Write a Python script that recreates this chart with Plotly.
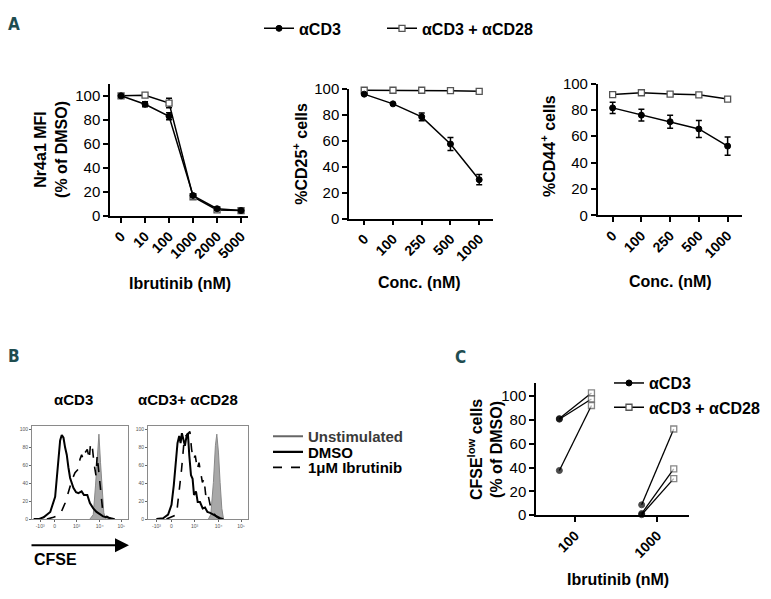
import plotly.graph_objects as go

W, H = 771, 599
FONT = "Liberation Sans, Arial, sans-serif"

# ---------------- Panel A data ----------------
a1_conc = ["0", "10", "100", "1000", "2000", "5000"]
a1_cd3 = [100, 93, 83, 17, 6, 4.5]
a1_cd3_err = [0.5, 2, 3, 1, 1, 0.5]
a1_cd28 = [100, 100.5, 94, 16, 5, 4.5]
a1_cd28_err = [0.5, 0.5, 4, 1, 0.5, 0.5]

a2_conc = ["0", "100", "250", "500", "1000"]
a2_cd3 = [96, 88.5, 78.5, 57.5, 30]
a2_cd3_err = [0.5, 0.5, 3, 5, 4]
a2_cd28 = [99, 99, 99, 98.7, 98.2]
a2_cd28_err = [0.5, 0.5, 0.5, 0.5, 0.5]

a3_conc = ["0", "100", "250", "500", "1000"]
a3_cd3 = [81.5, 76, 71, 65.5, 52.5]
a3_cd3_err = [4.3, 4.5, 5, 6.5, 7]
a3_cd28 = [91.6, 93, 92, 91.4, 88.2]
a3_cd28_err = [0.5, 0.5, 0.5, 0.5, 1.5]

# ---------------- Panel B data (histograms, channel vs % of max) ----------------
b_ticks = [8.5, 23.5, 46.5, 70.5, 93]
b_ticktext = ["-10³", "0", "10³", "10⁴", "10⁵"]

h1_dmso_x = [1.7, 6.9, 12.1, 19, 24.1, 26.5, 28.3, 29.3, 31, 32.8, 34.5, 36.2, 37.9, 39.7, 43.1, 45.9, 48.3,
             51.7, 54.1, 57.6, 60.3, 63.8, 67.2, 70.7, 74.1, 77.6, 82.8, 86.2]
h1_dmso_y = [0, 0, 2, 8, 25, 55, 78, 88, 94, 91, 80, 72, 58, 46, 35, 30, 29, 31, 27, 27, 18, 12, 8, 5, 3, 2, 1, 0]
h1_ibr_x = [15.5, 22.4, 29.3, 34.5, 37.9, 41.4, 44.8, 48.3, 50, 51.7, 53.4, 55.2, 57.6, 59.7, 61, 63.1, 64.5,
            66.6, 67.9, 69.7, 71.4, 73.4, 75.9, 79.3, 82.8]
h1_ibr_y = [0, 2, 5, 18, 30, 43, 52, 56, 67, 72, 67, 74, 78, 67, 85, 78, 63, 49, 71, 49, 27, 12, 5, 2, 0]
h1_uns_x = [60.3, 63.8, 66.2, 68.3, 69.7, 71.4, 73.1, 74.8, 76.9]
h1_uns_y = [0, 5, 38, 82, 95, 63, 27, 7, 0]

h2_dmso_x = [8.4, 15.1, 20.1, 23.5, 25.8, 27.9, 29.5, 31.2, 32.6, 33.9, 35.2, 36.9, 38.6, 39.9, 41.3, 43, 44.6,
             46, 48, 49.7, 52, 54.7, 57, 59.4, 62.1, 65.4, 68.8, 72.1, 75.5]
h2_dmso_y = [0, 1, 5, 16, 38, 63, 85, 93, 85, 96, 89, 82, 93, 96, 71, 49, 45, 27, 31, 19, 19, 12, 13, 8, 7, 5, 3, 1, 0]
h2_ibr_x = [18.5, 28.5, 33.6, 35.9, 37.9, 39.9, 41.9, 43.6, 45.3, 47.3, 49.3, 51, 52.7, 54.4, 56, 57.7, 59.4,
            62.1, 64.8, 68.1, 72.1]
h2_ibr_y = [0, 5, 56, 85, 93, 96, 98, 78, 67, 71, 56, 63, 49, 41, 45, 27, 31, 16, 8, 3, 0]
h2_uns_x = [60.4, 62.8, 65.4, 67.4, 68.8, 70.5, 72.1, 73.8, 75.5]
h2_uns_y = [0, 5, 41, 82, 95, 74, 41, 12, 0]

# ---------------- Panel C data ----------------
c_conc = ["100", "1000"]
c_cd3 = [[81, 80.5, 37.5], [8.7, 1.4, 0.4]]
c_cd28 = [[102.5, 97.5, 92], [72.3, 38.8, 30.7]]

# ---------------- helpers ----------------
def dx(a, b):
    return [a / W, b / W]

def dy(top, bottom):
    return [1 - bottom / H, 1 - top / H]

def px(x):
    return x / W

def py(y):
    return 1 - y / H

fig = go.Figure()

CD3_MARK = dict(symbol="circle", size=6, color="black", line=dict(color="black", width=1))
CD28_MARK = dict(symbol="square", size=6, color="white", line=dict(color="#555555", width=1.3))
LINE = dict(color="black", width=1.5)

def add_pair(xa, ya, cats, cd3, cd3e, cd28, cd28e):
    fig.add_trace(go.Scatter(x=cats, y=cd28, mode="lines+markers", line=LINE, marker=CD28_MARK,
                             error_y=dict(type="data", array=cd28e, color="black", thickness=1.5, width=3),
                             xaxis=xa, yaxis=ya, showlegend=False, cliponaxis=False))
    fig.add_trace(go.Scatter(x=cats, y=cd3, mode="lines+markers", line=LINE, marker=CD3_MARK,
                             error_y=dict(type="data", array=cd3e, color="black", thickness=1.5, width=3),
                             xaxis=xa, yaxis=ya, showlegend=False, cliponaxis=False))

add_pair("x", "y", a1_conc, a1_cd3, a1_cd3_err, a1_cd28, a1_cd28_err)
add_pair("x2", "y2", a2_conc, a2_cd3, a2_cd3_err, a2_cd28, a2_cd28_err)
add_pair("x3", "y3", a3_conc, a3_cd3, a3_cd3_err, a3_cd28, a3_cd28_err)

# Histograms
def add_hist(xa, ya, ux, uy, dxs, dys, ix, iy):
    fig.add_trace(go.Scatter(x=ux, y=uy, mode="lines", fill="tozeroy", fillcolor="#a8a8a8",
                             line=dict(color="#888888", width=1), xaxis=xa, yaxis=ya, showlegend=False))
    fig.add_trace(go.Scatter(x=ix, y=iy, mode="lines", line=dict(color="black", width=1.6, dash="dash"),
                             xaxis=xa, yaxis=ya, showlegend=False))
    fig.add_trace(go.Scatter(x=dxs, y=dys, mode="lines", line=dict(color="black", width=2),
                             xaxis=xa, yaxis=ya, showlegend=False))

add_hist("x4", "y4", h1_uns_x, h1_uns_y, h1_dmso_x, h1_dmso_y, h1_ibr_x, h1_ibr_y)
add_hist("x5", "y5", h2_uns_x, h2_uns_y, h2_dmso_x, h2_dmso_y, h2_ibr_x, h2_ibr_y)

# Panel C paired lines
offs = (-0.19, 0.2)
for i, cat in enumerate(c_conc):
    for v3, v28 in zip(c_cd3[i], c_cd28[i]):
        fig.add_trace(go.Scatter(
            x=[i + offs[0], i + offs[1]], y=[v3, v28], mode="lines+markers",
            line=dict(color="black", width=1.3),
            marker=dict(symbol=["circle", "square"], size=[6, 6], color=["black", "white"],
                        line=dict(color=["black", "#555555"], width=[1, 1.3])),
            xaxis="x6", yaxis="y6", showlegend=False, cliponaxis=False))

# Legend entries (dummy traces)
def leg_entry(name, legend, line, marker=None):
    kw = dict(x=[None], y=[None], name=name, legend=legend, line=line, showlegend=True)
    if marker is not None:
        kw.update(mode="lines+markers", marker=marker)
    else:
        kw.update(mode="lines")
    fig.add_trace(go.Scatter(**kw))

leg_entry("αCD3", "legend", dict(color="black", width=1.5), CD3_MARK)
leg_entry("αCD3 + αCD28", "legend2", dict(color="black", width=1.5), CD28_MARK)
leg_entry("Unstimulated", "legend3", dict(color="#666666", width=2))
leg_entry("DMSO", "legend4", dict(color="black", width=2.2))
leg_entry("1μM Ibrutinib", "legend5", dict(color="black", width=1.6, dash="dash"))
leg_entry("αCD3", "legend6", dict(color="black", width=1.5), CD3_MARK)
leg_entry("αCD3 + αCD28", "legend7", dict(color="black", width=1.5), CD28_MARK)

def legend_at(x, y, size=16, color="black"):
    return dict(x=px(x), y=py(y), xanchor="left", yanchor="middle", bgcolor="rgba(0,0,0,0)",
                borderwidth=0, font=dict(family=FONT, size=size, color=color, weight="bold"),
                itemclick=False, itemdoubleclick=False)

# ---------------- axes ----------------
def ax_common():
    return dict(showline=True, linecolor="black", linewidth=1.5, ticks="outside", ticklen=5,
                tickwidth=1.5, tickcolor="black", showgrid=False, zeroline=False)

xtickfont = dict(family=FONT, size=14, color="black", weight="bold")
ytickfont = dict(family=FONT, size=15, color="black")
htickfont = dict(family=FONT, size=5, color="#555")

def hist_axes(xd, yd, xa, ya):
    xax = dict(domain=xd, range=[0, 100], showline=True, mirror=True, linecolor="#8a8a8a",
               linewidth=1, ticks="outside", ticklen=2, tickcolor="#666", tickvals=b_ticks,
               ticktext=b_ticktext, tickfont=htickfont, showgrid=False, zeroline=False, anchor=ya)
    yax = dict(domain=yd, range=[0, 104.3], showline=True, mirror=True, linecolor="#8a8a8a",
               linewidth=1, ticks="outside", ticklen=2, tickcolor="#666",
               tickvals=[0, 20, 40, 60, 80, 100], tickfont=htickfont,
               showgrid=False, zeroline=False, anchor=xa)
    return xax, yax

hx4, hy4 = hist_axes(dx(32, 128), dy(429, 525), "x4", "y4")
hx5, hy5 = hist_axes(dx(148, 248), dy(429, 525), "x5", "y5")

layout = dict(
    width=W, height=H, margin=dict(l=0, r=0, t=0, b=0),
    paper_bgcolor="white", plot_bgcolor="white", showlegend=True,
    xaxis=dict(**ax_common(), domain=dx(110, 248), type="category", range=[-0.46, 5.29],
               tickangle=-45, tickfont=xtickfont, anchor="y"),
    yaxis=dict(**ax_common(), domain=dy(77, 213), range=[0, 110], tickvals=[0, 20, 40, 60, 80, 100],
               tickfont=ytickfont, anchor="x"),
    xaxis2=dict(**ax_common(), domain=dx(349, 493), type="category", range=[-0.53, 4.48],
                tickangle=-45, tickfont=xtickfont, anchor="y2"),
    yaxis2=dict(**ax_common(), domain=dy(82.3, 215.7), range=[0, 100], tickvals=[0, 20, 40, 60, 80, 100],
                tickfont=ytickfont, anchor="x2"),
    xaxis3=dict(**ax_common(), domain=dx(597.7, 741.7), type="category", range=[-0.52, 4.49],
                tickangle=-45, tickfont=xtickfont, anchor="y3"),
    yaxis3=dict(**ax_common(), domain=dy(76.7, 212.3), range=[0, 100], tickvals=[0, 20, 40, 60, 80, 100],
                tickfont=ytickfont, anchor="x3"),
    xaxis4=hx4, yaxis4=hy4, xaxis5=hx5, yaxis5=hy5,
    xaxis6=dict(**ax_common(), domain=dx(536, 689.3), range=[-0.474, 1.389], tickvals=[0, 1],
                ticktext=c_conc, tickangle=-45, tickfont=xtickfont, anchor="y6"),
    yaxis6=dict(**ax_common(), domain=dy(385, 521), range=[0, 110.8], tickvals=[0, 20, 40, 60, 80, 100],
                tickfont=ytickfont, anchor="x6"),
    legend=legend_at(259, 20),
    legend2=legend_at(382, 20),
    legend3=legend_at(268, 440, 15, "#3a3a3a"),
    legend4=legend_at(268, 456, 15),
    legend5=legend_at(268, 472, 15),
    legend6=legend_at(609, 385),
    legend7=legend_at(609, 410),
)
fig.update_layout(**layout)

# ---------------- text annotations ----------------
TITLE = dict(family=FONT, size=16, color="black", weight="bold")
LETTER = dict(family="Liberation Sans Narrow, DejaVu Sans Condensed, Arial Narrow, sans-serif",
              size=17, color="#1f4d50", weight="bold")

def ann(text, x, y, font, angle=0):
    fig.add_annotation(text=text, x=px(x), y=py(y), xref="paper", yref="paper", showarrow=False,
                       font=font, textangle=angle, xanchor="center", yanchor="middle")

ann("A", 14, 15, LETTER)
ann("B", 14, 357, LETTER)
ann("C", 460, 358, LETTER)

ann("Nr4a1 MFI<br>(% of DMSO)", 51, 145, TITLE, -90)
ann("%CD25<sup>+</sup> cells", 300, 149, TITLE, -90)
ann("%CD44<sup>+</sup> cells", 548, 141, TITLE, -90)
ann("CFSE<sup>low</sup> cells<br>(% of DMSO)", 485, 454, TITLE, -90)

ann("Ibrutinib (nM)", 180, 283, TITLE)
ann("Conc. (nM)", 420, 282, TITLE)
ann("Conc. (nM)", 670, 280, TITLE)
ann("Ibrutinib (nM)", 618, 587, TITLE)

ann("αCD3", 73, 402, dict(family=FONT, size=15, color="black", weight="bold"))
ann("αCD3+ αCD28", 188, 402, dict(family=FONT, size=15, color="black", weight="bold"))
ann("CFSE", 55, 567, dict(family=FONT, size=16, color="black", weight="bold"))

# CFSE arrow
fig.add_annotation(x=px(129), y=py(552), xref="paper", yref="paper", ax=-99, ay=0, text="",
                   showarrow=True, arrowhead=2, arrowsize=1.4, arrowwidth=2, arrowcolor="black")

# remove the default page margin so the 771x599 figure fills the window exactly
fig.write_html("out.html", config={"displayModeBar": False},
               post_script="document.body.style.margin='0px';")
